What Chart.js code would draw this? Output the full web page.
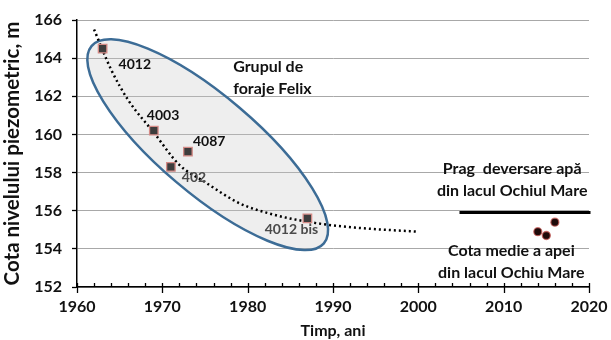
<!DOCTYPE html>
<html>
<head>
<meta charset="utf-8">
<script src="https://cdn.jsdelivr.net/npm/chart.js@4/dist/chart.umd.min.js"></script>
<style>
  html, body { margin: 0; padding: 0; background: #fff; }
  #wrap { width: 611px; height: 340px; position: relative; }
</style>
</head>
<body>
<div id="wrap"><canvas id="c"></canvas></div>
<script>
// Piezometric level of the Felix wells and of Ochiul Mare lake
const wellNames  = ['4012', '4003', '4087', '402', '4012 bis'];
const wellYears  = [1963, 1969, 1973, 1971, 1987];
const wellLevels = [164.5, 160.2, 159.1, 158.3, 155.6];

const lakeYears  = [2014, 2015, 2016];
const lakeLevels = [154.9, 154.7, 155.4];

const trendYears  = [1962, 1964, 1966, 1969, 1972, 1975, 1979, 1983, 1988, 1993, 2000];
const trendLevels = [165.5, 163.4, 161.8, 160.1, 158.4, 157.5, 156.4, 155.8, 155.35, 155.1, 154.9];

const sillYears = [2005, 2020];
const sillLevel = 155.9;

const yTickValues = [152, 154, 156, 158, 160, 162, 164, 166];
const xTickValues = [1960, 1970, 1980, 1990, 2000, 2010, 2020];

const FONT = 'Lato, "Open Sans", sans-serif';

const wells = wellYears.map((x, i) => ({ x, y: wellLevels[i] }));
const lake  = lakeYears.map((x, i) => ({ x, y: lakeLevels[i] }));
const trend = trendYears.map((x, i) => ({ x, y: trendLevels[i] }));
const sill  = sillYears.map(x => ({ x, y: sillLevel }));

// ellipse around the Felix wells: major-axis tips in data units, minor/major ratio
const felixZone = { tipA: [1961.7, 164.63], tipB: [1988.93, 154.29], ratio: 0.32 };

// well labels: pixel offsets from each marker, colour
const wellLabelStyle = [
  { dx: 16, dy: 16, align: 'left', color: '#111' },
  { dx: -7, dy: -15, align: 'left', color: '#111' },
  { dx: 5, dy: -10, align: 'left', color: '#111' },
  { dx: 11, dy: 11, align: 'left', color: '#4a4a4a' },
  { dx: -16, dy: 11, align: 'center', color: '#4a4a4a' }
];

// free text blocks anchored in data units
const notes = [
  { x: 1978.3, y: 163.55, lines: ['Grupul de', 'foraje Felix'], align: 'left' },
  { x: 2011.0, y: 158.22, lines: ['Prag  deversare apă', 'din lacul Ochiul Mare'], align: 'center' },
  { x: 2010.9, y: 153.89, lines: ['Cota medie a apei', 'din lacul Ochiu Mare'], align: 'center' }
];

const zonePlugin = {
  id: 'zone',
  beforeDatasetsDraw(chart) {
    const { ctx, scales: { x, y } } = chart;
    const ax = x.getPixelForValue(felixZone.tipA[0]), ay = y.getPixelForValue(felixZone.tipA[1]);
    const bx = x.getPixelForValue(felixZone.tipB[0]), by = y.getPixelForValue(felixZone.tipB[1]);
    const cx = (ax + bx) / 2, cy = (ay + by) / 2;
    const a = Math.hypot(bx - ax, by - ay) / 2;
    const rot = Math.atan2(by - ay, bx - ax);
    ctx.save();
    ctx.beginPath();
    ctx.ellipse(cx, cy, a, a * felixZone.ratio, rot, 0, Math.PI * 2);
    ctx.fillStyle = 'rgba(200,200,200,0.3)';
    ctx.fill();
    ctx.lineWidth = 2.5;
    ctx.strokeStyle = '#3c6c96';
    ctx.stroke();
    ctx.restore();
  }
};

const textPlugin = {
  id: 'texts',
  afterDraw(chart) {
    const { ctx, scales: { x, y } } = chart;
    ctx.save();
    // x-axis tick marks: majors every 10 years, minors every 2
    const base = y.getPixelForValue(152);
    ctx.strokeStyle = '#000';
    ctx.lineWidth = 1.3;
    for (let yr = 1960; yr <= 2020; yr += 2) {
      const px = Math.round(x.getPixelForValue(yr)) + 0.5;
      const major = yr % 10 === 0;
      ctx.beginPath();
      ctx.moveTo(px, base - 4);
      ctx.lineTo(px, base + (major ? 6 : 0));
      ctx.stroke();
    }
    ctx.textBaseline = 'middle';
    ctx.font = 'bold 14px ' + FONT;
    wells.forEach((p, i) => {
      const s = wellLabelStyle[i];
      ctx.fillStyle = s.color;
      ctx.textAlign = s.align;
      ctx.fillText(wellNames[i], x.getPixelForValue(p.x) + s.dx, y.getPixelForValue(p.y) + s.dy);
    });
    ctx.font = 'bold 16px ' + FONT;
    ctx.fillStyle = '#111';
    notes.forEach(n => {
      ctx.textAlign = n.align;
      const px = x.getPixelForValue(n.x), py = y.getPixelForValue(n.y);
      n.lines.forEach((t, k) => ctx.fillText(t, px, py + k * 22));
    });
    ctx.restore();
  }
};

new Chart(document.getElementById('c'), {
  type: 'scatter',
  data: {
    datasets: [
      {
        type: 'line', data: trend, borderColor: '#000', borderWidth: 2.5,
        borderDash: [2, 3], pointRadius: 0, cubicInterpolationMode: 'monotone', fill: false, order: 3
      },
      {
        type: 'line', data: sill, borderColor: '#000', borderWidth: 3, borderCapStyle: 'square',
        pointRadius: 0, fill: false, clip: false, order: 2
      },
      {
        data: wells, pointStyle: 'rect', pointRadius: 6, backgroundColor: '#3d3d3d',
        borderColor: '#d48a86', borderWidth: 1.3, order: 1
      },
      {
        data: lake, pointStyle: 'circle', pointRadius: 4, backgroundColor: '#1f0a0a',
        borderColor: 'rgba(200,90,85,0.75)', borderWidth: 1.3, order: 1
      }
    ]
  },
  options: {
    responsive: true, maintainAspectRatio: false, animation: false,
    layout: { padding: { left: 0, right: 22, top: 20, bottom: 0 } },
    plugins: { legend: { display: false }, tooltip: { enabled: false } },
    scales: {
      x: {
        type: 'linear', min: 1960, max: 2020,
        afterBuildTicks: s => { s.ticks = xTickValues.map(v => ({ value: v })); },
        afterFit: s => { s.height = 53; s.paddingRight = 0; s.paddingLeft = 0; },
        grid: { display: false },
        border: { color: '#000', width: 1.5 },
        ticks: {
          color: '#111', padding: 2, maxRotation: 0,
          callback: v => String(v),
          font: { family: FONT, weight: 'bold', size: 16 }
        },
        title: {
          display: true, text: 'Timp, ani', color: '#111', padding: { top: 0, bottom: 0 },
          font: { family: FONT, weight: 'bold', size: 16 }
        }
      },
      y: {
        min: 152, max: 166,
        afterBuildTicks: s => { s.ticks = yTickValues.map(v => ({ value: v })); },
        afterFit: s => { s.width = 77; },
        grid: { color: '#a8a8a8', lineWidth: 1, tickColor: '#000', tickLength: 5, tickWidth: 1.3 },
        border: { color: '#000', width: 1.5 },
        ticks: { color: '#111', padding: 10, font: { family: FONT, weight: 'bold', size: 16 } },
        title: {
          display: true, text: 'Cota nivelului piezometric, m', color: '#111', padding: { top: 0, bottom: 0 },
          font: { family: FONT, weight: 'bold', size: 20.5 }
        }
      }
    }
  },
  plugins: [zonePlugin, textPlugin]
});
</script>
</body>
</html>
